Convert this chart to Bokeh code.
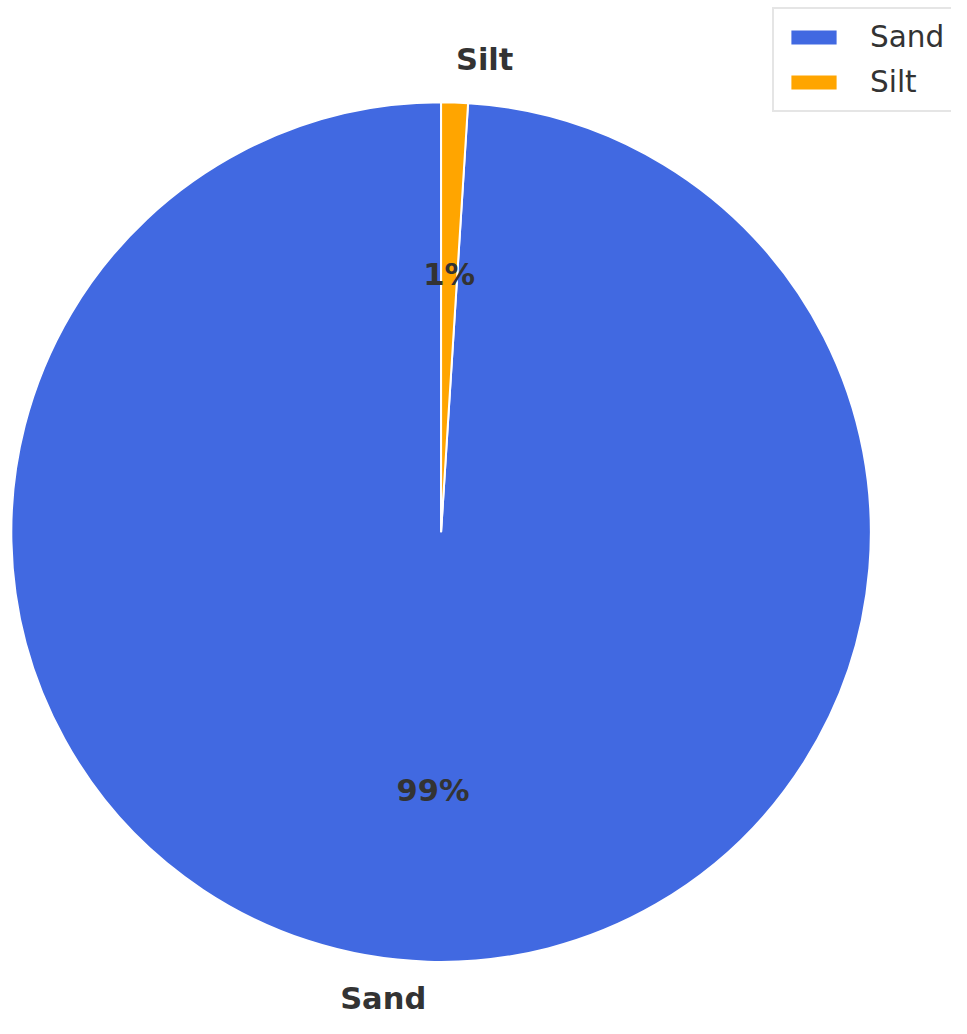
import math
from bokeh.plotting import figure
from bokeh.models import Range1d, ColumnDataSource, Legend, LegendItem
from bokeh.core.properties import value
from bokeh.embed import file_html
from bokeh.resources import INLINE

categories = ["Sand", "Silt"]
values = [99, 1]
colors = ["#4169E1", "#FFA500"]

total = sum(values)
# counter-clockwise from top (90 deg), like matplotlib's default
starts, ends, mids = [], [], []
cur = 90.0
for v in values:
    span = 360.0 * v / total
    starts.append(math.radians(cur))
    ends.append(math.radians(cur + span))
    mids.append(math.radians(cur + span / 2))
    cur += span

# geometry in reference-pixel units (x right, y up = -screen y)
cx, cy, r = 448.0, -540.0, 437.0
REF_W, REF_H = 967, 1034

W, H = 951, 1018
p = figure(width=W, height=H, output_backend="svg", toolbar_location=None,
           x_range=Range1d(0, REF_W), y_range=Range1d(-REF_H, 0),
           x_axis_type=None, y_axis_type=None, min_border=0)
p.grid.visible = False
p.outline_line_color = None
p.background_fill_color = "white"

src = ColumnDataSource(dict(cat=categories, start=starts, end=ends, color=colors))
w = p.wedge(x=cx, y=cy, radius=r, start_angle="start", end_angle="end",
            fill_color="color", line_color="white", line_width=2, source=src)

lx, ly, la, lyo = [], [], [], []
px, py, pt = [], [], []
for c, v, m in zip(categories, values, mids):
    lx.append(cx + 1.1 * r * math.cos(m))
    ly.append(cy + 1.1 * r * math.sin(m))
    la.append("left" if math.cos(m) > 0 else "right")
    # keep the bottom label fully inside the canvas
    lyo.append(-7 if math.sin(m) < 0 else 0)
    px.append(cx + 0.6 * r * math.cos(m))
    py.append(cy + 0.6 * r * math.sin(m))
    pt.append(f"{round(100 * v / total)}%")

lsrc = ColumnDataSource(dict(x=lx, y=ly, text=categories, align=la, yo=lyo))
p.text(x="x", y="y", text="text", text_align="align", y_offset="yo",
       text_baseline="middle", source=lsrc,
       text_font=value("DejaVu Sans"), text_font_style="bold",
       text_font_size="30.5px", text_color="#333333")
p.text(x=px, y=py, text=pt, text_align="center", text_baseline="middle",
       text_font=value("DejaVu Sans"), text_font_style="bold",
       text_font_size="30.5px", text_color="#333333")

items = [LegendItem(label=c, renderers=[w], index=i) for i, c in enumerate(categories)]
legend = Legend(items=items, location=(772, 906), margin=0,
                label_text_font="DejaVu Sans", label_text_font_size="29.5px",
                label_text_color="#333333", glyph_width=59, glyph_height=20,
                label_height=36, label_standoff=27, spacing=9, padding=10,
                border_line_color="#cccccc", border_line_width=2,
                background_fill_color="white", background_fill_alpha=1.0)
p.add_layout(legend)

open("out.html", "w").write(file_html(p, INLINE))
